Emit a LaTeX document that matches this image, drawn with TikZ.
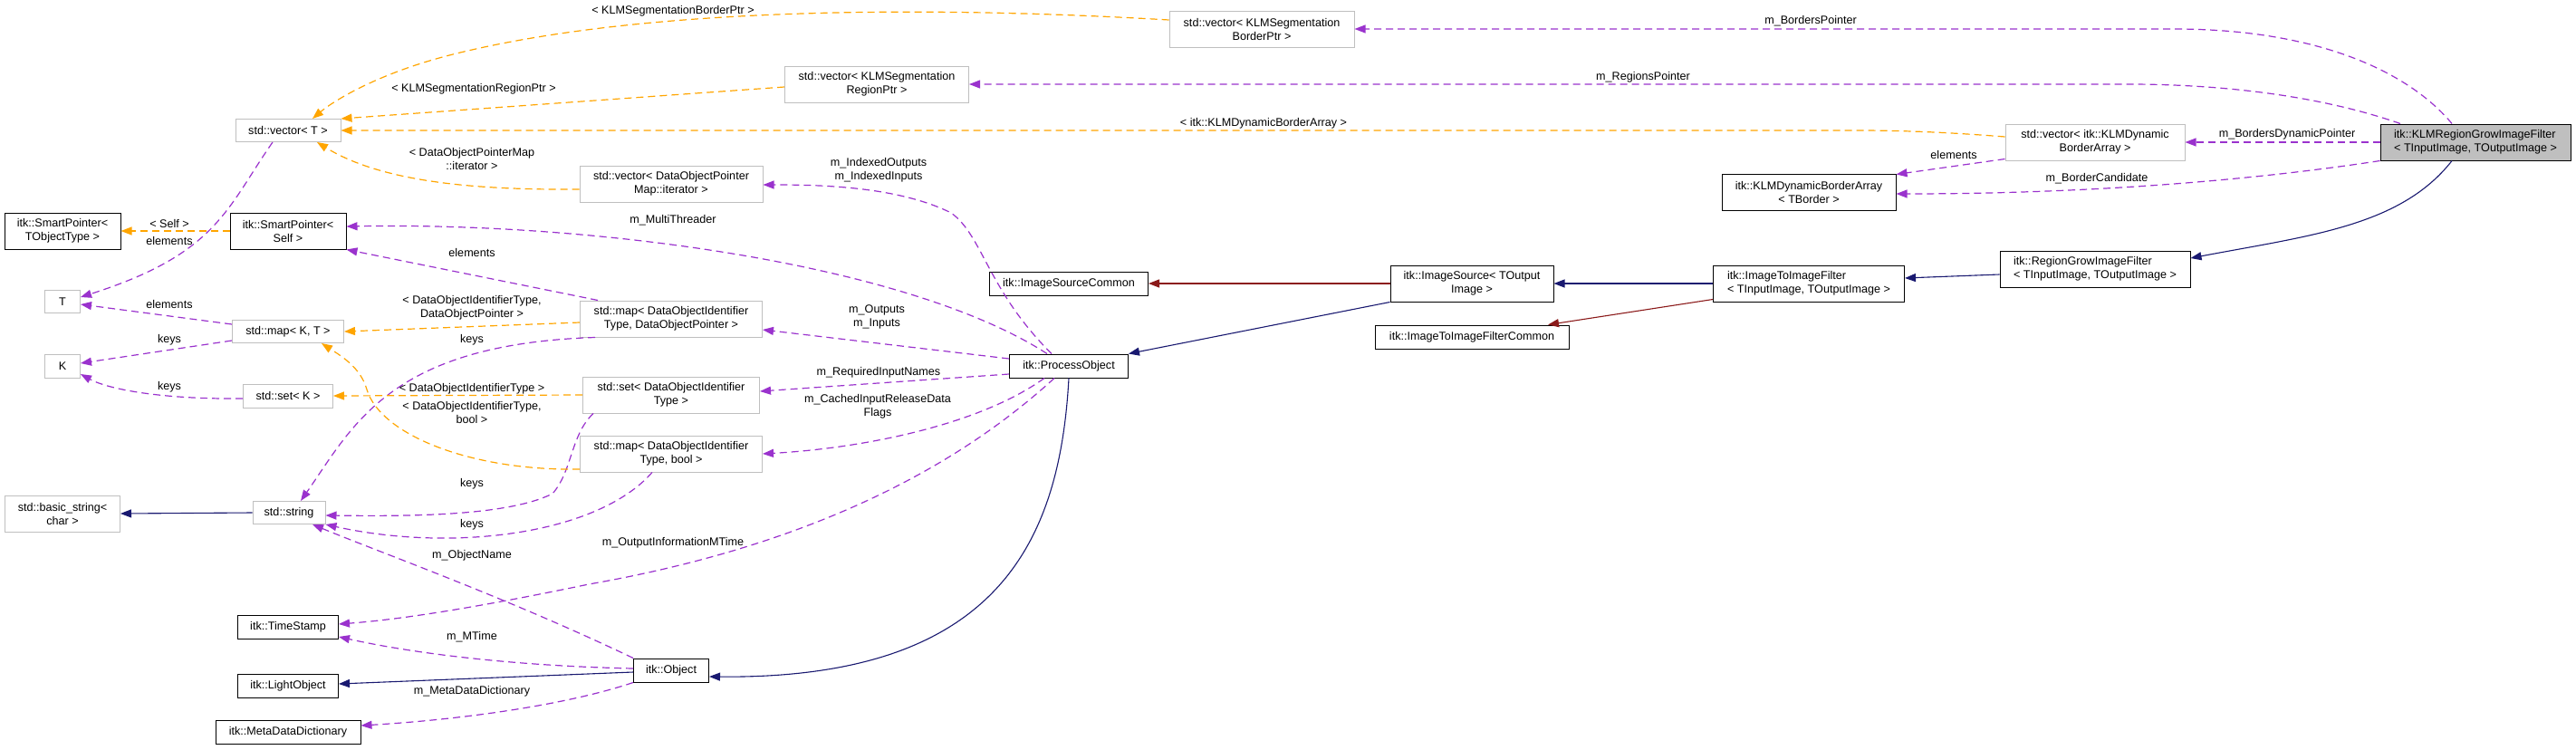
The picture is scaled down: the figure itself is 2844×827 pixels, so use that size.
\documentclass[tikz,border=0pt]{standalone}
\usepackage{fontspec}
\setmainfont{Liberation Sans}
\usepackage{xcolor}
\usetikzlibrary{arrows.meta}
\definecolor{usecol}{HTML}{9A32CD}
\definecolor{tplcol}{HTML}{FFA500}
\definecolor{pubcol}{HTML}{191970}
\definecolor{pricol}{HTML}{8B1A1A}
\definecolor{boxgray}{HTML}{BFBFBF}
\begin{document}
\begin{tikzpicture}[x=1pt, y=-1pt, every node/.style={font=\fontsize{12.6}{15}\selectfont},
    cls/.style={draw=black, line width=1pt, inner sep=0pt, minimum height=26, align=center},
    ext/.style={cls, draw=boxgray},
    lbl/.style={inner sep=0pt, align=center},
    use/.style={usecol, line width=1.2pt, dash pattern=on 8pt off 5pt, -{Triangle[length=12pt,width=9pt]}},
    tpl/.style={use, tplcol},
    pub/.style={pubcol, line width=1.1pt, -{Triangle[length=12pt,width=9pt]}},
    pri/.style={pub, pricol}]
        \useasboundingbox (0,0) rectangle (2844,827);

        \node[cls, fill=boxgray, align=left, minimum width=210, minimum height=40] (klm) at (2733,157) {itk::KLMRegionGrowImageFilter\\< TInputImage, TOutputImage >};
        \node[ext, minimum width=204, minimum height=40] (vecBorder) at (1393,32) {std::vector< KLMSegmentation\\BorderPtr >};
        \node[ext, minimum width=203, minimum height=40] (vecRegion) at (968,93) {std::vector< KLMSegmentation\\RegionPtr >};
        \node[ext, minimum width=116, minimum height=25] (vecT) at (318,144) {std::vector< T >};
        \node[ext, minimum width=198, minimum height=40] (vecDyn) at (2313,157) {std::vector< itk::KLMDynamic\\BorderArray >};
        \node[cls, minimum width=192, minimum height=40] (kdba) at (1997,212) {itk::KLMDynamicBorderArray\\< TBorder >};
        \node[cls, align=left, minimum width=210, minimum height=40] (rgif) at (2313,297) {itk::RegionGrowImageFilter\\< TInputImage, TOutputImage >};
        \node[cls, align=left, minimum width=211, minimum height=40] (itif) at (1997,313) {itk::ImageToImageFilter\\< TInputImage, TOutputImage >};
        \node[cls, minimum width=180, minimum height=40] (isrc) at (1625,313) {itk::ImageSource< TOutput\\Image >};
        \node[cls, minimum width=214] (itifc) at (1625,372) {itk::ImageToImageFilterCommon};
        \node[cls, minimum width=175] (isc) at (1180,313) {itk::ImageSourceCommon};
        \node[cls, minimum width=131] (po) at (1180,404) {itk::ProcessObject};
        \node[ext, minimum width=202, minimum height=40] (vecDOPM) at (741,203) {std::vector< DataObjectPointer\\Map::iterator >};
        \node[ext, minimum width=201, minimum height=40] (mapDOP) at (741,352) {std::map< DataObjectIdentifier\\Type, DataObjectPointer >};
        \node[ext, minimum width=195, minimum height=40] (setDOIT) at (741,436) {std::set< DataObjectIdentifier\\Type >};
        \node[ext, minimum width=201, minimum height=40] (mapBool) at (741,501) {std::map< DataObjectIdentifier\\Type, bool >};
        \node[cls, minimum width=83] (obj) at (741,740) {itk::Object};
        \node[cls, minimum width=128, minimum height=40] (spSelf) at (318,255) {itk::SmartPointer<\\Self >};
        \node[cls, minimum width=128, minimum height=40] (spObj) at (69,255) {itk::SmartPointer<\\TObjectType >};
        \node[ext, minimum width=39, minimum height=25] (nT) at (69,333) {T};
        \node[ext, minimum width=39] (nK) at (69,404) {K};
        \node[ext, minimum width=123, minimum height=25] (mapKT) at (318,366) {std::map< K, T >};
        \node[ext, minimum width=99] (setK) at (318,437) {std::set< K >};
        \node[ext, minimum width=127, minimum height=40] (bstr) at (69,567) {std::basic\_string<\\char >};
        \node[ext, minimum width=80, minimum height=25] (str) at (319,566) {std::string};
        \node[cls, minimum width=111] (ts) at (318,692) {itk::TimeStamp};
        \node[cls, minimum width=111] (lo) at (318,757) {itk::LightObject};
        \node[cls, minimum width=160] (mdd) at (318,808) {itk::MetaDataDictionary};

        \draw[use] ([xshift=-26]klm.north) .. controls (2660,80) and (2560,32) .. (2400,32) -- (vecBorder.east);
        \draw[use] ([xshift=-83]klm.north) .. controls (2560,105) and (2450,93) .. (2350,93) -- (vecRegion.east);
        \draw[use] (klm.west) -- (vecDyn.east);
        \draw[use] (klm.south west) .. controls (2480,200) and (2300,214) .. ([yshift=-2]kdba.east);
        \draw[use] ([yshift=2]vecDyn.south west) -- ([yshift=-1]kdba.north east);
        \draw[use] ([xshift=-19]po.north) .. controls (1090,320) and (1085,260) .. (1050,235)
            .. controls (990,205) and (900,204) .. ([yshift=-1]vecDOPM.east);
        \draw[use] ([xshift=-24]po.north) .. controls (1000,290) and (650,245) .. ([yshift=5]spSelf.east);
        \draw[use] ([xshift=20]mapDOP.north west) -- (spSelf.south east);
        \draw[use] ([yshift=8]po.west) -- ([yshift=-12]mapDOP.east);
        \draw[use] ([yshift=-9]po.west) -- ([yshift=4]setDOIT.east);
        \draw[use] ([xshift=-27]po.south) .. controls (1080,470) and (950,495) .. (mapBool.east);
        \draw[use] ([xshift=-16]po.south) .. controls (1030,540) and (850,610) .. (650,645)
            .. controls (520,672) and (440,684) .. ([yshift=3]ts.east);
        \draw[use] ([xshift=-17]vecT.south) .. controls (250,230) and (240,280) .. ([yshift=5]nT.east);
        \draw[use] ([yshift=8]mapKT.west) -- ([yshift=-3]nT.east);
        \draw[use] ([yshift=-10]mapKT.west) -- ([yshift=3]nK.east);
        \draw[use] ([yshift=-3]setK.west) .. controls (180,441) and (120,430) .. ([yshift=-9]nK.east);
        \draw[use] ([xshift=17]mapDOP.south west) .. controls (430,380) and (390,470) .. ([xshift=13]str.north);
        \draw[use] ([xshift=12]setDOIT.south west) .. controls (630,480) and (632,520) .. (610,545)
            .. controls (560,570) and (450,570) .. ([yshift=-3]str.east);
        \draw[use] ([xshift=-21]mapBool.south) .. controls (660,590) and (500,610) .. (str.south east);
        \draw[use] (obj.north west) .. controls (560,660) and (420,610) .. ([xshift=26]str.south);
        \draw[use] ([yshift=2]obj.west) .. controls (560,735) and (450,720) .. ([yshift=-11]ts.east);
        \draw[use] (obj.south west) .. controls (620,780) and (500,795) .. ([yshift=7]mdd.east);

        \draw[tpl] ([yshift=10]vecBorder.west) .. controls (1000,5) and (700,10) .. (500,60)
            .. controls (420,80) and (370,110) .. ([xshift=27]vecT.north);
        \draw[tpl] ([yshift=-3]vecRegion.west) -- (vecT.north east);
        \draw[tpl] ([yshift=6]vecDyn.west) .. controls (2150,146) and (2100,144) .. (2050,144) -- (vecT.east);
        \draw[tpl] ([yshift=-6]vecDOPM.west) .. controls (520,210) and (420,200) .. ([xshift=32]vecT.south);
        \draw[tpl] (spSelf.west) -- (spObj.east);
        \draw[tpl] ([yshift=-4]mapDOP.west) -- (mapKT.east);
        \draw[tpl] (setDOIT.west) -- (setK.east);
        \draw[tpl] ([yshift=-17]mapBool.west) .. controls (520,520) and (420,480) .. (405,430)
            .. controls (398,405) and (375,392) .. ([xshift=37]mapKT.south);

        \draw[pub] ([xshift=-26]klm.south) .. controls (2650,250) and (2550,260) .. ([yshift=12]rgif.east);
        \draw[pub] ([yshift=-6]rgif.west) -- ([yshift=6]itif.east);
        \draw[pub] (itif.west) -- (isrc.east);
        \draw[pub] (isrc.south west) -- (po.north east);
        \draw[pub] (po.south) .. controls (1170,600) and (1100,750) .. ([yshift=-7]obj.east);
        \draw[pub] (str.west) -- (bstr.east);
        \draw[pub] ([yshift=-2]obj.west) -- ([yshift=2]lo.east);
        \draw[pri] (isrc.west) -- (isc.east);
        \draw[pri] ([yshift=3]itif.south west) -- ([xshift=84]itifc.north);

        \node[lbl] (lBorders) at (1999,23) {m\_BordersPointer};
        \node[lbl] (lRegions) at (1814,85) {m\_RegionsPointer};
        \node[lbl] (lDynPtr) at (2525,148) {m\_BordersDynamicPointer};
        \node[lbl] (lElemDyn) at (2157,171) {elements};
        \node[lbl] (lCand) at (2315,197) {m\_BorderCandidate};
        \node[lbl] (lTplDyn) at (1395,136) {< itk::KLMDynamicBorderArray >};
        \node[lbl] (lTplBorder) at (743,12) {< KLMSegmentationBorderPtr >};
        \node[lbl] (lTplRegion) at (523,98) {< KLMSegmentationRegionPtr >};
        \node[lbl] (lTplIter) at (521,175) {< DataObjectPointerMap\\::iterator >};
        \node[lbl] (lIdx) at (970,188) {m\_IndexedOutputs\\m\_IndexedInputs};
        \node[lbl] (lThread) at (743,243) {m\_MultiThreader};
        \node[lbl] (lElemSP) at (521,279) {elements};
        \node[lbl] (lTplMapDOP) at (521,340) {< DataObjectIdentifierType,\\DataObjectPointer >};
        \node[lbl] (lKeysMapDOP) at (521,375) {keys};
        \node[lbl] (lTplSet) at (521,429) {< DataObjectIdentifierType >};
        \node[lbl] (lTplMapBool) at (521,455) {< DataObjectIdentifierType,\\bool >};
        \node[lbl] (lSelf) at (187,247) {< Self >};
        \node[lbl] (lElemVec) at (187,266) {elements};
        \node[lbl] (lElemMap) at (187,336) {elements};
        \node[lbl] (lKeysMap) at (187,375) {keys};
        \node[lbl] (lKeysSet) at (187,427) {keys};
        \node[lbl] (lIO) at (968,350) {m\_Outputs\\m\_Inputs};
        \node[lbl] (lReq) at (970,411) {m\_RequiredInputNames};
        \node[lbl] (lCached) at (969,449) {m\_CachedInputReleaseData\\Flags};
        \node[lbl] (lOIM) at (743,599) {m\_OutputInformationMTime};
        \node[lbl] (lKeysSet2) at (521,534) {keys};
        \node[lbl] (lKeysBool) at (521,579) {keys};
        \node[lbl] (lObjName) at (521,613) {m\_ObjectName};
        \node[lbl] (lMTime) at (521,703) {m\_MTime};
        \node[lbl] (lMDD) at (521,763) {m\_MetaDataDictionary};
    \end{tikzpicture}
\end{document}
